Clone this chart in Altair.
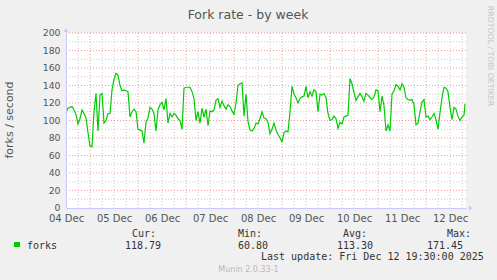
import altair as alt
import pandas as pd

# ---- data ----
START = "2025-12-04 12:00"
values = [109,114,115,116,112,107,96,102,112,108,103,86,71,70,110,131,88,129,131,97,
          100,108,108,135,147,154,152,140,134,135,134,133,104,110,113,110,90,89,88,74,
          98,103,115,113,108,88,112,118,121,112,125,97,108,104,108,106,102,100,90,137,
          138,138,138,133,125,100,110,97,114,104,113,94,111,110,112,123,125,115,122,117,
          113,118,116,111,107,120,140,142,143,105,130,99,89,88,91,97,96,102,110,103,
          102,98,85,90,97,89,84,80,76,86,88,87,110,139,130,126,120,125,127,128,
          139,126,133,128,135,133,110,130,129,131,126,108,100,101,105,102,91,98,96,104,
          105,106,148,142,132,123,127,131,127,122,131,129,126,124,127,135,134,110,128,117,
          88,95,88,130,134,141,139,135,142,138,126,124,123,124,118,95,97,110,121,124,
          104,105,101,104,108,101,90,109,126,138,137,133,115,101,115,113,105,100,104,106,
          119]
hours = list(range(200)) + [199.5]

y_major = [20, 40, 60, 80, 100, 120, 140, 160, 180, 200]
y_minor = [10, 30, 50, 70, 90, 110, 130, 150, 170, 190]
y_ticks = [0, 20, 40, 60, 80, 100, 120, 140, 160, 180, 200]
x_label_hours = [0, 24, 48, 72, 96, 120, 144, 168, 192]   # noon of 04..12 Dec
grid_hours = list(range(6, 200, 6))

title_text = "Fork rate - by week"
y_title = "forks / second"
watermark = "RRDTOOL / TOBI OETIKER"
series_name = "forks"
stat_names = ["Cur:", "Min:", "Avg:", "Max:"]
stat_values = ["118.79", "60.80", "113.30", "171.45"]
last_update = "Last update: Fri Dec 12 19:30:00 2025"
version = "Munin 2.0.33-1"

# ---- build ----
start_ms = pd.Timestamp(START, tz="UTC").value // 10**6
H = 3600000
def ms(h):
    return start_ms + h * H

df = pd.DataFrame({"t": [ms(h) for h in hours], "v": values})
major_v = [ms(h) for h in grid_hours if (h + 12) % 24 == 0]
minor_v = [ms(h) for h in grid_hours if (h + 12) % 24 != 0]

xscale = alt.Scale(type="utc", domain=[ms(0), ms(200)], nice=False)
yscale = alt.Scale(domain=[0, 200], nice=False, zero=True)

RED = "#ff0000"
GRAY = "#a8a8a8"
AX = "#c8c8ff"

xaxis = alt.Axis(
    values=[ms(h) for h in x_label_hours],
    labelExpr="utcFormat(datum.value, '%d %b')",
    title=None, grid=False, ticks=False, labelPadding=5,
    domainColor=AX, labelFont="DejaVu Sans", labelFontSize=10,
    labelColor="#555555", labelFlush=False, labelOverlap=False, zindex=1)
yaxis = alt.Axis(
    values=y_ticks, title=None, grid=False, ticks=False, labelPadding=6,
    domainColor=AX, labelFont="DejaVu Sans", labelFontSize=9.3,
    labelColor="#555555", labelOffset=-0.5, zindex=1)

def hrule(vals, color, op):
    return alt.Chart(pd.DataFrame({"v": vals})).mark_rule(
        color=color, strokeOpacity=op, strokeDash=[1, 2], strokeWidth=1
    ).encode(y=alt.Y("v:Q", scale=yscale, axis=yaxis))

def vrule(vals, color, op):
    return alt.Chart(pd.DataFrame({"t": vals})).mark_rule(
        color=color, strokeOpacity=op, strokeDash=[1, 2], strokeWidth=1
    ).encode(x=alt.X("t:T", scale=xscale, axis=xaxis))

line = alt.Chart(df).mark_line(color="#00cc00", strokeWidth=1.2, interpolate="linear").encode(
    x=alt.X("t:T", scale=xscale, axis=xaxis),
    y=alt.Y("v:Q", scale=yscale, axis=yaxis),
)

def txt(s, x, y, size=10, font="DejaVu Sans Mono", color="#333333",
        align="left", angle=0, baseline="alphabetic"):
    return alt.Chart(pd.DataFrame({"s": [s]})).mark_text(
        align=align, baseline=baseline, font=font, fontSize=size,
        color=color, angle=angle
    ).encode(x=alt.value(x), y=alt.value(y), text="s:N")

arrow_up = alt.Chart(pd.DataFrame({"a": [1]})).mark_point(
    shape="triangle-up", filled=True, color=AX, size=22, opacity=1
).encode(x=alt.value(0), y=alt.value(-3))
arrow_right = alt.Chart(pd.DataFrame({"a": [1]})).mark_point(
    shape="triangle-right", filled=True, color=AX, size=22, opacity=1
).encode(x=alt.value(405), y=alt.value(175))

swatch = alt.Chart(pd.DataFrame({"a": [1]})).mark_rect(color="#00cc00").encode(
    x=alt.value(-52), x2=alt.value(-46), y=alt.value(209), y2=alt.value(214))

stat_x_name = [66, 172, 277, 381]
stat_x_val = [59, 172, 271, 361]
layers = [
    hrule(y_minor, GRAY, 0.6), vrule(minor_v, GRAY, 0.6),
    hrule(y_major, RED, 0.4), vrule(major_v, RED, 0.4),
    line, arrow_up, arrow_right, swatch,
    txt(title_text, 182, -14, size=12.5, font="DejaVu Sans", color="#555555", align="center"),
    txt(y_title, -56, 87, size=11, font="DejaVu Sans", color="#555555", align="center",
        angle=270, baseline="middle"),
    txt(watermark, 424, 23, size=7.8, font="DejaVu Sans", color="#c4c4c4", align="center",
        angle=90, baseline="middle"),
    txt(series_name, -39, 215.5),
    txt(last_update, 195, 227),
    txt(version, 182.5, 239, size=8, font="DejaVu Sans", color="#b8b8b8", align="center"),
]
for i in range(4):
    layers.append(txt(stat_names[i], stat_x_name[i], 203.5))
    layers.append(txt(stat_values[i], stat_x_val[i], 215.5))

chart = alt.layer(*layers).properties(
    width=400, height=175, background="#f0f0f0",
    autosize=alt.AutoSizeParams(type="none"),
    padding={"left": 66, "top": 33, "right": 31, "bottom": 72},
).configure_view(fill="#ffffff", strokeWidth=0)

chart.save("out.html", embed_options={"renderer": "svg", "actions": False})
